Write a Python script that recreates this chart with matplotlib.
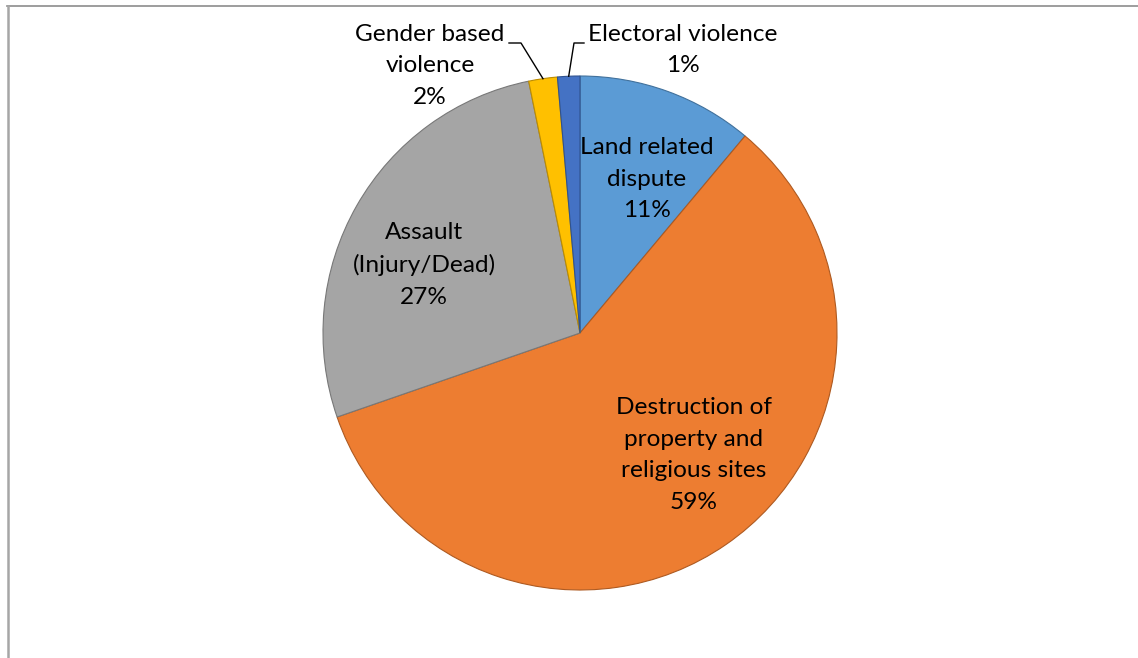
import matplotlib
matplotlib.use('Agg')
import numpy as np
import matplotlib.pyplot as plt
from matplotlib.lines import Line2D

# share of incidents by type (percent)
categories = ['Land related\ndispute', 'Destruction of\nproperty and\nreligious sites',
              'Assault\n(Injury/Dead)', 'Gender based\nviolence', 'Electoral violence']
values = [11.1, 58.6, 27.1, 1.8, 1.4]
pct_labels = ['11%', '59%', '27%', '2%', '1%']

colors = ['#5B9BD5', '#ED7D31', '#A5A5A5', '#FFC000', '#4472C4']
edges = ['#41719C', '#AE5A21', '#787878', '#BC8C00', '#2F528F']

plt.rcParams['font.family'] = ['Lato', 'DejaVu Sans']

W, H = 1138, 658
fig = plt.figure(figsize=(W / 100, H / 100), dpi=100)
ax = fig.add_axes([0, 0, 1, 1])

cx, cy, R = 580, H - 333, 257
wedges, _ = ax.pie(values, colors=colors, startangle=90, counterclock=False,
                   center=(cx, cy), radius=R, frame=True,
                   wedgeprops=dict(linewidth=0.8))
for w, ec in zip(wedges, edges):
    w.set_edgecolor(ec)
ax.set_xlim(0, W)
ax.set_ylim(0, H)
ax.set_aspect('equal')
ax.axis('off')

fs = 17.6
ls = 1.63
# labels inside slices
inside = {0: (647, 179), 1: (694, 455), 2: (424, 265)}
for i, (x, y) in inside.items():
    ax.text(x, H - y, categories[i] + '\n' + pct_labels[i], ha='center', va='center',
            fontsize=fs, linespacing=ls, color='#000000')

# outside labels with leader lines
ax.text(430, H - 66, categories[3] + '\n' + pct_labels[3], ha='center', va='center',
        fontsize=fs, linespacing=ls)
ax.text(683, H - 50, categories[4] + '\n' + pct_labels[4], ha='center', va='center',
        fontsize=fs, linespacing=ls)

def edge_point(w):
    mid = np.deg2rad((w.theta1 + w.theta2) / 2)
    return cx + R * np.cos(mid), cy + R * np.sin(mid)

gx, gy = edge_point(wedges[3])
ax.plot([509, 521, gx], [H - 43, H - 43, gy], color='black', lw=1)
ex, ey = edge_point(wedges[4])
ax.plot([584, 574, ex], [H - 43, H - 43, ey], color='black', lw=1)

# chart frame (partly cropped)
fig.add_artist(Line2D([7 / W, 1], [1 - 6 / H, 1 - 6 / H], color='#8c8c8c', lw=1.2))
fig.add_artist(Line2D([8 / W, 8 / W], [0, 1 - 6 / H], color='#a6a6a6', lw=1.8))

fig.savefig('out.png', dpi=100)
